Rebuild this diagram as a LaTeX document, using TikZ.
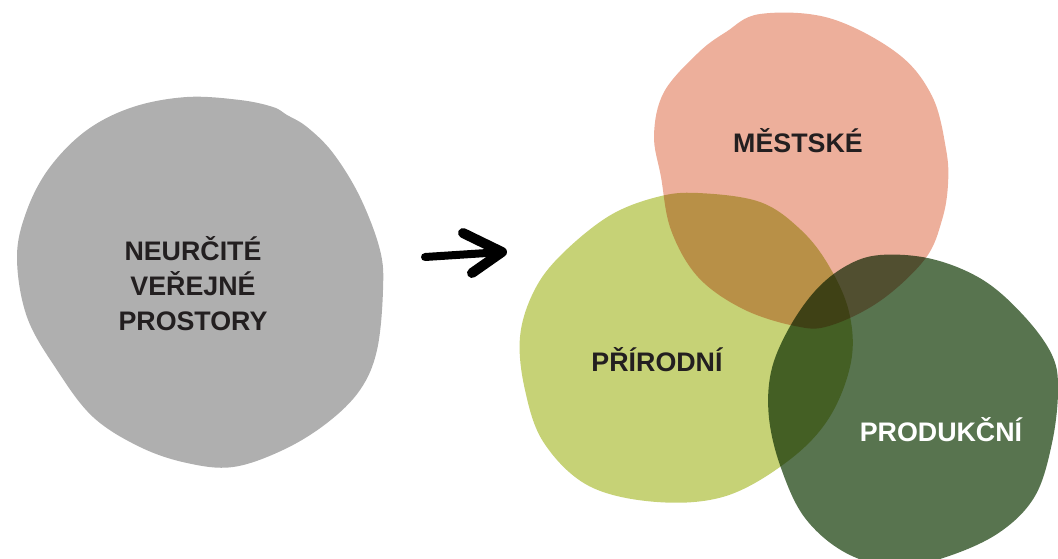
\documentclass[tikz,border=0pt]{standalone}
\usepackage{fontspec}
\setmainfont{Liberation Sans}
\definecolor{blobgray}{RGB}{175, 175, 175}
\definecolor{citypink}{RGB}{237, 175, 155}
\definecolor{naturegreen}{RGB}{198, 210, 118}
\definecolor{prodgreen}{RGB}{88, 116, 79}
\definecolor{labelink}{RGB}{35, 31, 32}
\usetikzlibrary{positioning, calc}

\begin{document}
\begin{tikzpicture}[x=0.5pt, y=-0.5pt,
    label/.style={font=\fontsize{13.4}{17.5}\selectfont\bfseries, text=labelink, align=center, inner sep=0pt},
    brush/.style={line width=4pt, line cap=round, line join=round, black}]
  \useasboundingbox (0,0) rectangle (1058,558);

  % grey blob
  \fill[blobgray] plot[smooth cycle, tension=0.6] coordinates {
    (287,115) (307,127) (333,153) (360,197) (380,250) (383,290) (377,350)
    (360,390) (327,423) (283,450) (233,467) (187,463) (140,447) (93,417)
    (57,370) (27,317) (17,257) (27,210) (50,167) (87,130) (133,107)
    (187,97) (240,100) (273,107)};
  \node[label] (vague) at (193,284) {NEURČITÉ\\VEŘEJNÉ\\PROSTORY};

  % arrow
  \coordinate (tail) at (425,257);
  \coordinate (tip) at (502,252);
  \draw[brush] (tail) -- (tip);
  \draw[brush, line width=5pt] (tip) ++(-39,-19) -- (tip) -- ++(-30,21);

  % three blobs
  \begin{scope}[blend group=multiply]
    \fill[citypink] plot[smooth cycle, tension=0.6] coordinates {
      (760,14) (829,18) (897,53) (932,96) (946,149) (948,184) (942,220)
      (925,259) (880,301) (829,326) (795,326) (743,309) (698,277)
      (671,230) (661,177) (654,135) (664,92) (698,53) (726,32)};
    \fill[naturegreen] plot[smooth cycle, tension=0.6] coordinates {
      (760,202) (698,193) (657,197) (609,216) (561,255) (534,291)
      (520,337) (525,390) (544,443) (589,486) (657,502) (726,496)
      (788,461) (829,418) (851,362) (849,312) (829,266) (801,230)};
    \fill[prodgreen] plot[smooth cycle, tension=0.6] coordinates {
      (880,255) (932,259) (983,280) (1024,316) (1052,355) (1058,390)
      (1052,443) (1035,496) (1000,532) (949,556) (897,567) (846,553)
      (805,518) (781,468) (769,418) (771,372) (788,330) (815,291)
      (846,266)};
  \end{scope}

  \node[label] (city) at (798,141) {MĚSTSKÉ};
  \node[label] (nature) at (657,360) {PŘÍRODNÍ};
  \node[label, text=white] (production) at (941,430) {PRODUKČNÍ};
\end{tikzpicture}
\end{document}
